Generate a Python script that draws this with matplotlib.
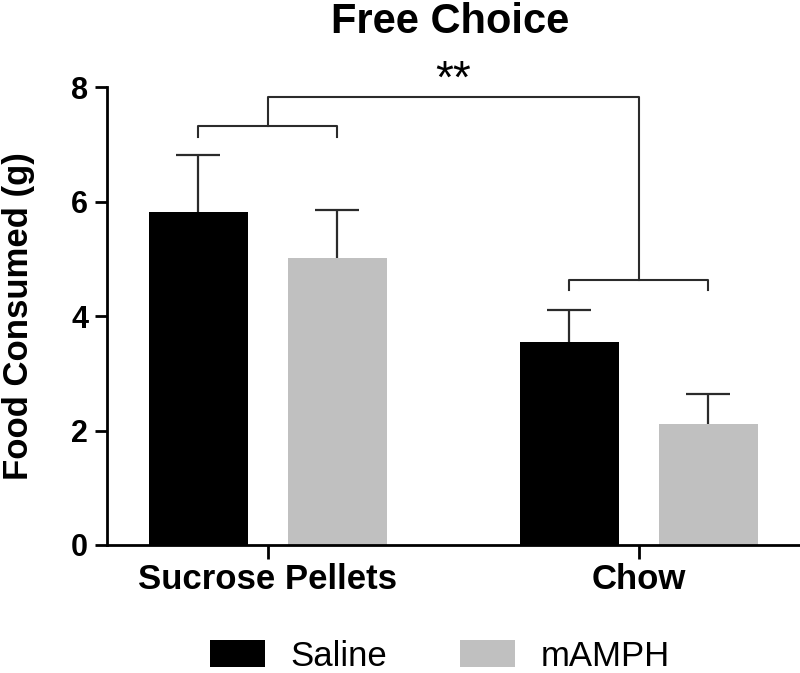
import matplotlib
matplotlib.use("Agg")
import matplotlib.pyplot as plt
from matplotlib.patches import Patch
import numpy as np

plt.rcParams['font.family'] = ['Liberation Sans', 'DejaVu Sans']

# data
categories = ['Sucrose Pellets', 'Chow']
groups = ['Saline', 'mAMPH']
saline_mean = [5.82, 3.55]
saline_sem = [0.99, 0.55]
mamph_mean = [5.02, 2.12]
mamph_sem = [0.83, 0.52]
colors = ['#000000', '#c0c0c0']

# significance bracket heights (data units)
left_bracket_y, left_leg_y = 7.32, 7.12
right_bracket_y, right_leg_y = 4.63, 4.45
top_bracket_y = 7.83
sig_label = '**'

x = np.arange(len(categories))
offset = 0.1875
width = 0.267

fig = plt.figure(figsize=(8, 6.73), dpi=100)
ax = fig.add_axes([0.13375, 0.1902, 0.86625, 0.6805])

ecol = '#2b2b2b'
for pos, mean, sem, c in [(x - offset, saline_mean, saline_sem, colors[0]),
                          (x + offset, mamph_mean, mamph_sem, colors[1])]:
    mean = np.array(mean)
    sem = np.array(sem)
    ax.bar(pos, mean, width, color=c, zorder=2)
    # upper-only error bars with a single cap
    ax.vlines(pos, mean, mean + sem, color=ecol, lw=1.6, zorder=3)
    ax.plot(pos, mean + sem, ls='none', marker='_', ms=32, mew=1.6,
            color=ecol, zorder=3)

# brackets
lc = dict(color=ecol, lw=1.5, clip_on=False, zorder=3)
ax.plot([x[0] - offset, x[0] - offset, x[0] + offset, x[0] + offset],
        [left_leg_y, left_bracket_y, left_bracket_y, left_leg_y], **lc)
ax.plot([x[1] - offset, x[1] - offset, x[1] + offset, x[1] + offset],
        [right_leg_y, right_bracket_y, right_bracket_y, right_leg_y], **lc)
ax.plot([x[0], x[0], x[1], x[1]],
        [left_bracket_y, top_bracket_y, top_bracket_y, right_bracket_y], **lc)
ax.text((x[0] + x[1]) / 2, top_bracket_y - 0.1, sig_label, ha='center', va='bottom',
        fontsize=33, clip_on=False)

ax.set_xlim(-0.434, 1.435)
ax.set_ylim(0, 8)
ax.set_yticks([0, 2, 4, 6, 8])
ax.set_xticks(x)
ax.set_xticklabels(categories, fontsize=25, fontweight='bold')
for lbl in ax.get_yticklabels():
    lbl.set_fontsize(22)
    lbl.set_fontweight('bold')

for side in ['top', 'right']:
    ax.spines[side].set_visible(False)
for side in ['left', 'bottom']:
    ax.spines[side].set_linewidth(2.0)
ax.tick_params(axis='y', length=8.5, width=2.0, pad=5)
ax.tick_params(axis='x', length=10, width=2.0, pad=3)

ax.set_ylabel('Food Consumed (g)', fontsize=25, fontweight='bold', va='center')
ax.yaxis.set_label_coords(-0.128, 0.5)

fig.text(0.5625, 0.968, 'Free Choice', ha='center', va='center',
         fontsize=30, fontweight='bold')

handles = [Patch(facecolor=c, edgecolor='none') for c in colors]
fig.legend(handles, groups, loc='center', bbox_to_anchor=(0.55, 0.025),
           ncol=2, frameon=False, fontsize=25, handlelength=1.58,
           handleheight=0.8, handletextpad=0.75, columnspacing=2.1)

fig.savefig('out.png', dpi=100)
